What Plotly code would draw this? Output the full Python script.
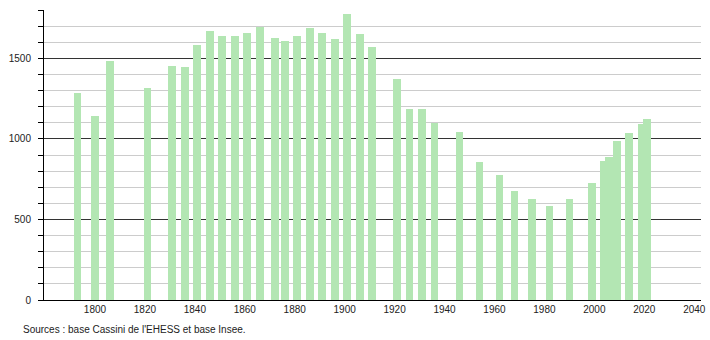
import plotly.graph_objects as go

years = [1793, 1800, 1806, 1821, 1831, 1836, 1841, 1846, 1851, 1856, 1861, 1866,
         1872, 1876, 1881, 1886, 1891, 1896, 1901, 1906, 1911, 1921, 1926, 1931,
         1936, 1946, 1954, 1962, 1968, 1975, 1982, 1990, 1999, 2004, 2006, 2009,
         2014, 2019, 2021]
population = [1287, 1140, 1482, 1318, 1451, 1445, 1582, 1669, 1638, 1638, 1656, 1694,
              1625, 1607, 1638, 1688, 1656, 1619, 1775, 1650, 1569, 1370, 1183, 1183,
              1096, 1040, 859, 778, 679, 629, 585, 629, 727, 861, 889, 990,
              1034, 1090, 1121]
x_ticks = list(range(1800, 2041, 20))
y_ticks = [0, 500, 1000, 1500]
source_text = "Sources : base Cassini de l'EHESS et base Insee."

fig = go.Figure()
fig.add_trace(go.Bar(
    x=years, y=population, width=3.1,
    marker=dict(color="#b3e6b3", line=dict(width=0)),
    hoverinfo="x+y",
))

fig.update_layout(
    width=710, height=340,
    margin=dict(l=44, r=9, t=10, b=40, autoexpand=False),
    paper_bgcolor="white", plot_bgcolor="white",
    showlegend=False,
    bargap=0,
    font=dict(family="Liberation Sans, Arial, sans-serif", size=10, color="#222"),
    xaxis=dict(
        range=[1779.6, 2042.7],
        tickvals=x_ticks,
        ticktext=[str(v) for v in x_ticks],
        showgrid=False, zeroline=False,
        showline=True, linecolor="black", linewidth=1,
        ticks="", ticklabelstandoff=0,
        automargin=False,
    ),
    yaxis=dict(
        range=[0, 1800],
        tickvals=y_ticks,
        ticktext=[str(v) for v in y_ticks],
        showgrid=True, gridcolor="#333333", gridwidth=1,
        zeroline=False,
        showline=True, linecolor="black", linewidth=1,
        ticks="outside", ticklen=5, tickcolor="black", tickwidth=1,
        ticklabelstandoff=5,
        automargin=False,
        minor=dict(dtick=100, tick0=0, ticks="outside", ticklen=5, tickcolor="black",
                   showgrid=True, gridcolor="#cccccc", gridwidth=1),
    ),
    annotations=[dict(
        text=source_text, xref="paper", yref="paper",
        x=-0.0355, y=-0.1034, xanchor="left", yanchor="middle",
        showarrow=False, font=dict(size=10, color="#222"),
    )],
)

fig.write_html("out.html")
